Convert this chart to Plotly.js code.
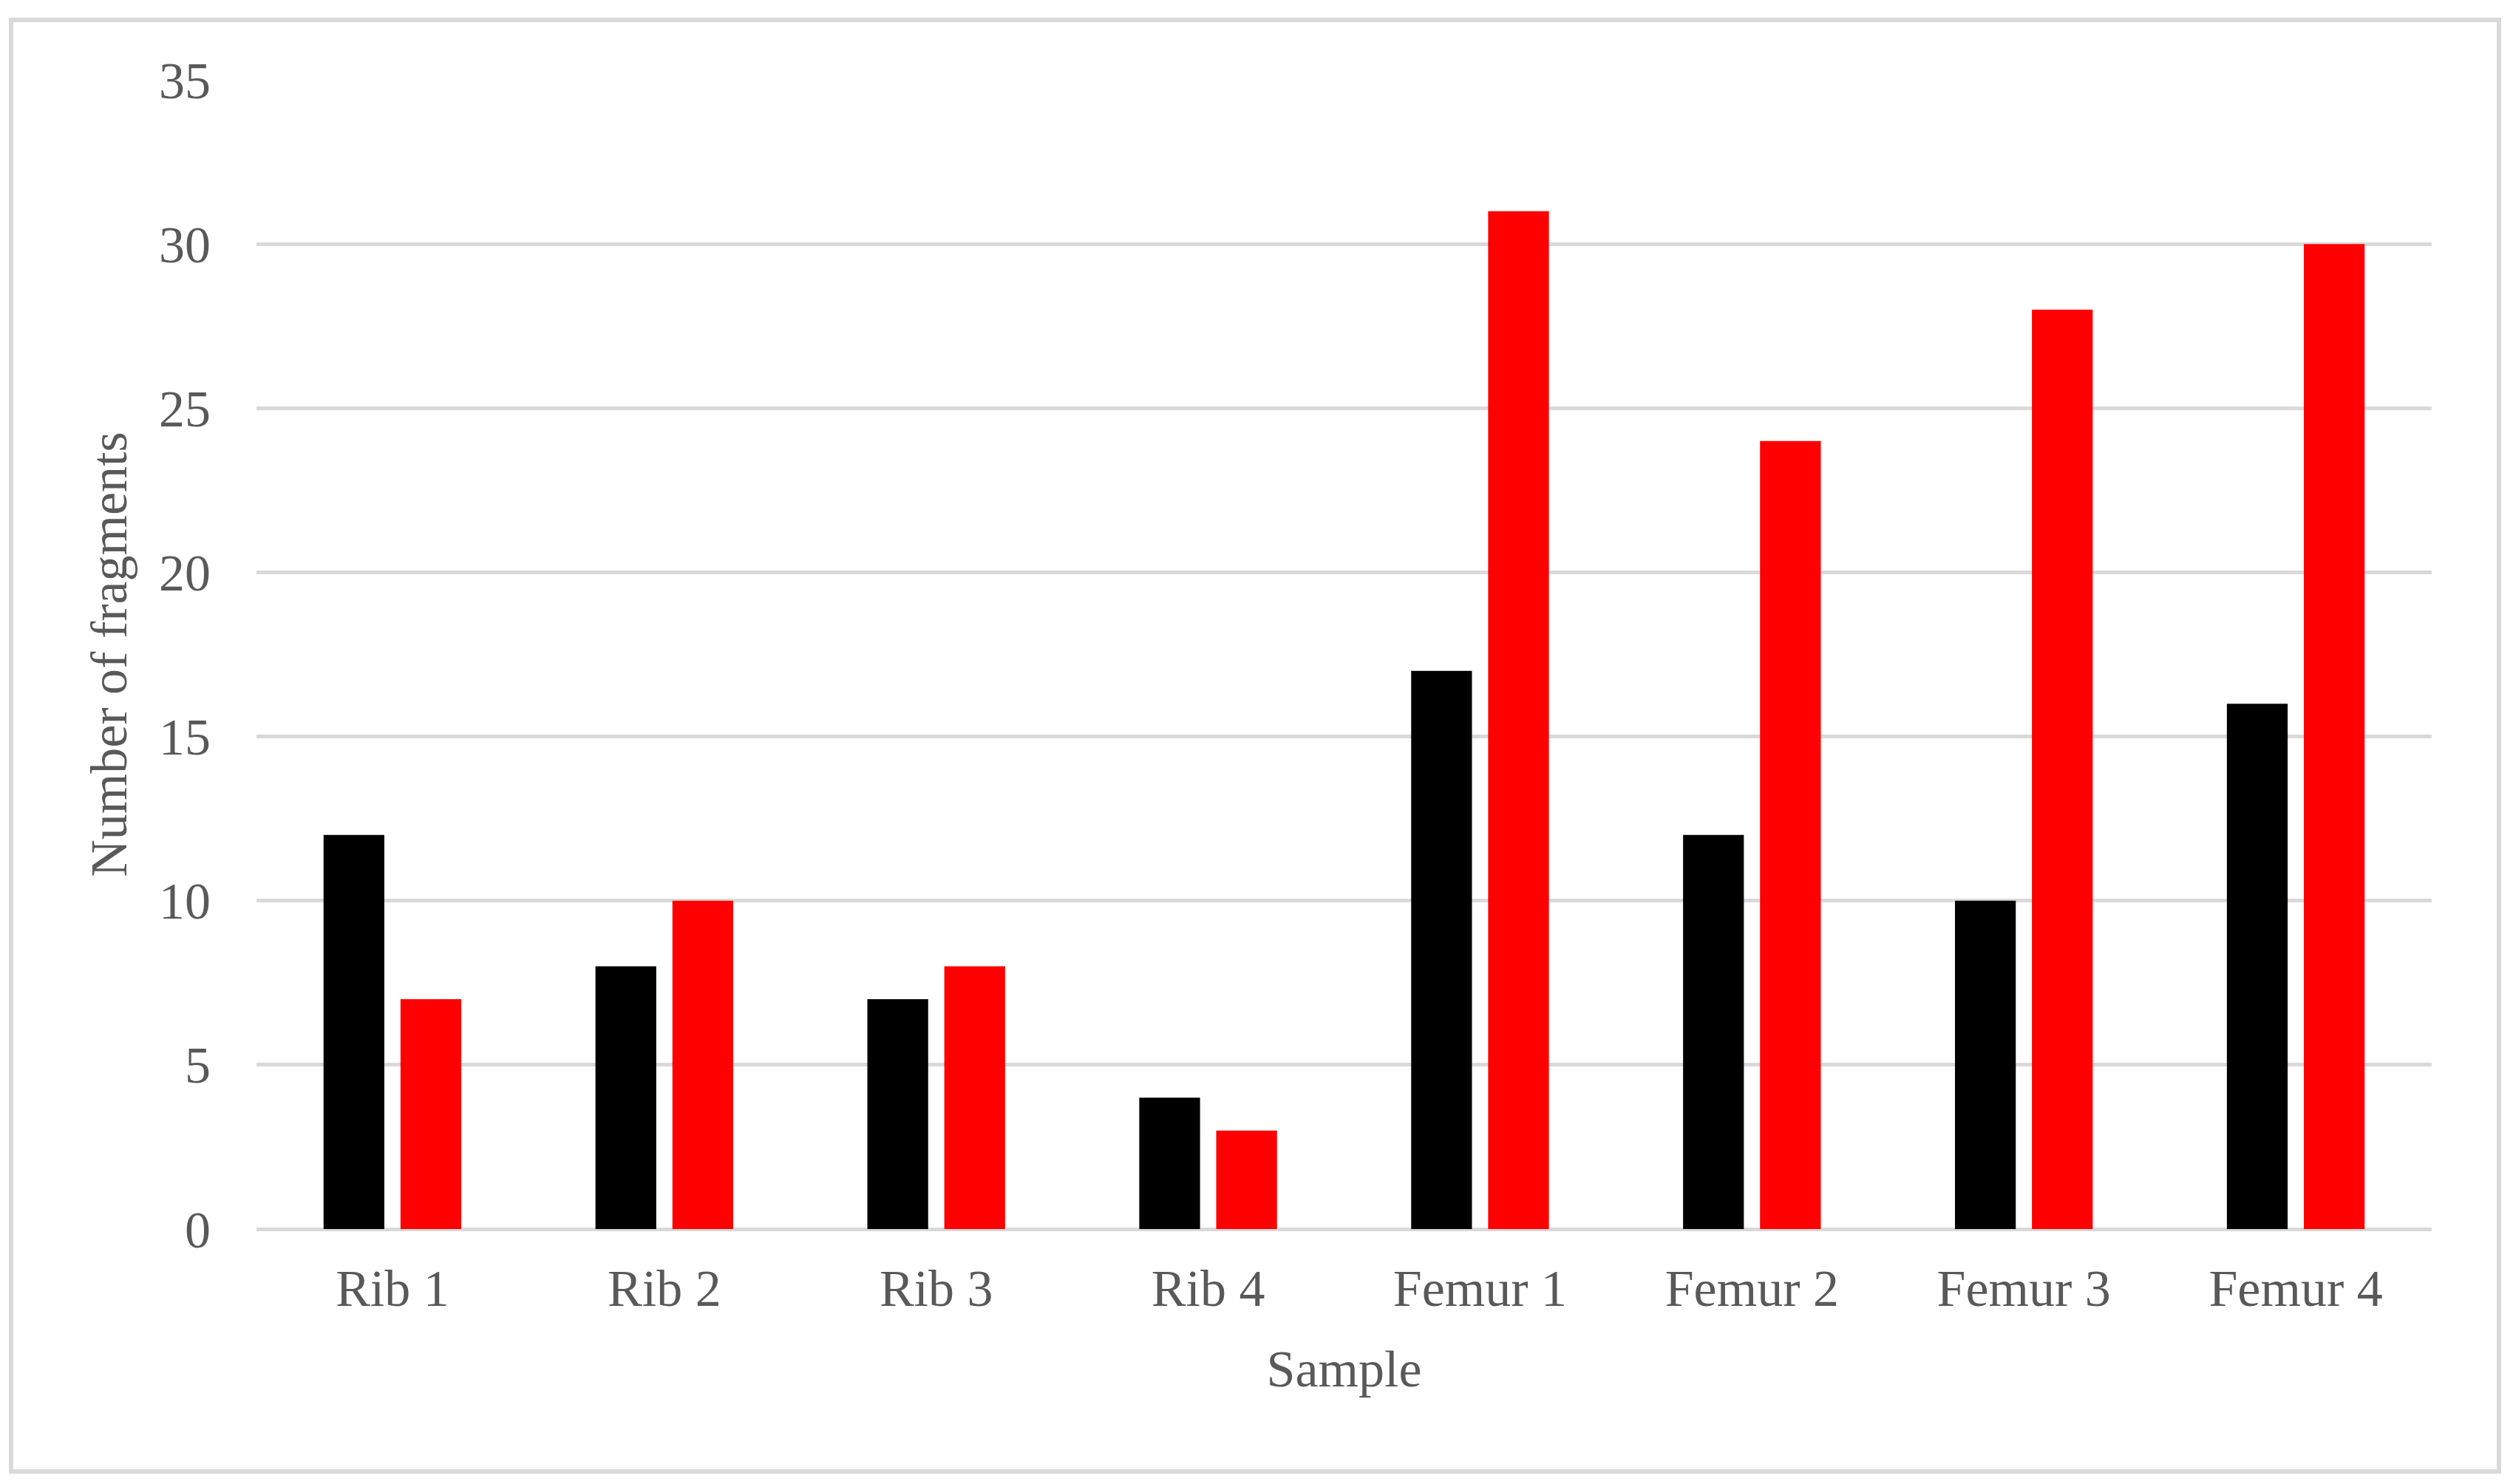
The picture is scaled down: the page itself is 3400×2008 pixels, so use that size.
<!DOCTYPE html>
<html>
<head>
<meta charset="utf-8">
<script src="https://cdn.plot.ly/plotly-3.0.1.min.js"></script>
<style>
  html, body { margin: 0; padding: 0; background: #ffffff; }
  #frame { position: absolute; left: 12px; top: 24px; width: 3360px; height: 1958px; border: 6px solid #d9d9d9; }
  #chart { position: absolute; left: 0; top: 0; width: 3400px; height: 2008px; }
</style>
</head>
<body>
<div id="frame"></div>
<div id="chart"></div>
<script>
// Data
const samples = ["Rib 1", "Rib 2", "Rib 3", "Rib 4", "Femur 1", "Femur 2", "Femur 3", "Femur 4"];
const seriesBlack = [12, 8, 7, 4, 17, 12, 10, 16];
const seriesRed = [7, 10, 8, 3, 31, 24, 28, 30];
const yTicks = [0, 5, 10, 15, 20, 25, 30, 35];

const fontFamily = '"Liberation Serif", "Times New Roman", Times, serif';
const textColor = '#595959';
const gridColor = '#d9d9d9';

const traces = [
  { type: 'bar', name: 'Series 1', x: samples, y: seriesBlack, marker: { color: '#000000' }, hoverinfo: 'x+y' },
  { type: 'bar', name: 'Series 2', x: samples, y: seriesRed, marker: { color: '#ff0000' }, hoverinfo: 'x+y' }
];

const layout = {
  width: 3400,
  height: 2008,
  paper_bgcolor: 'rgba(0,0,0,0)',
  plot_bgcolor: 'rgba(0,0,0,0)',
  margin: { l: 347, r: 110, t: 108, b: 345 },
  showlegend: false,
  barmode: 'group',
  bargap: 0.434,
  bargroupgap: 0.21,
  font: { family: fontFamily, color: textColor, size: 70 },
  xaxis: {
    type: 'category',
    showgrid: false,
    showline: false,
    zeroline: false,
    ticks: '',
    ticklabelstandoff: 33,
    tickfont: { family: fontFamily, color: textColor, size: 70 },
    title: { text: 'Sample', font: { family: fontFamily, color: textColor, size: 70 }, standoff: 45 },
    automargin: false
  },
  yaxis: {
    range: [0, 35],
    tickvals: yTicks,
    ticktext: yTicks.map(String),
    showgrid: true,
    gridcolor: gridColor,
    gridwidth: 5,
    zeroline: true,
    zerolinecolor: gridColor,
    zerolinewidth: 5,
    showline: false,
    ticks: '',
    ticklabelstandoff: 61,
    tickfont: { family: fontFamily, color: textColor, size: 70 },
    title: { text: 'Number of fragments', font: { family: fontFamily, color: textColor, size: 70 }, standoff: 20 },
    automargin: false
  }
};

Plotly.newPlot('chart', traces, layout, { displayModeBar: false, staticPlot: true });
</script>
</body>
</html>
